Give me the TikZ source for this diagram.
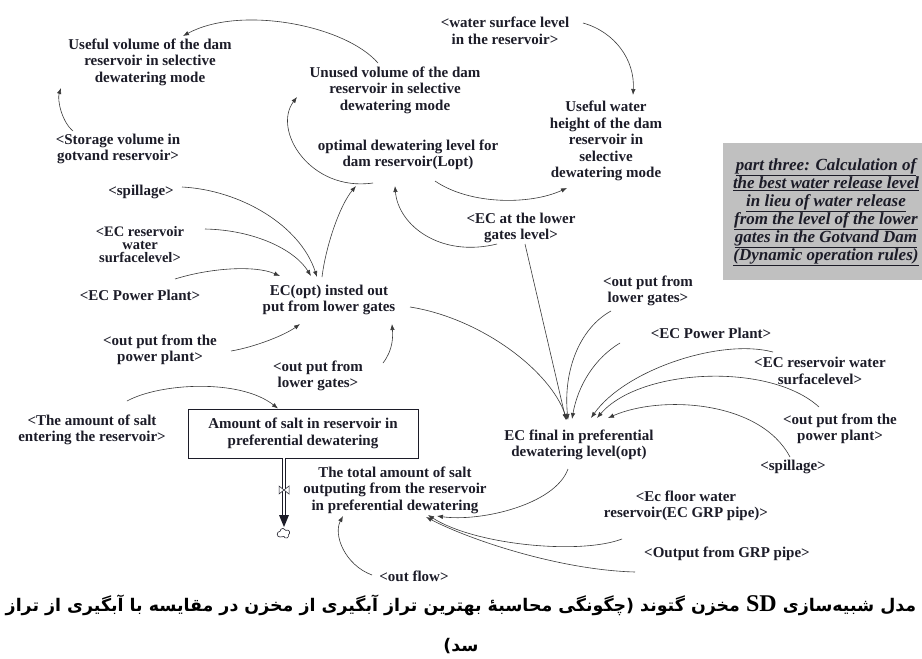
\documentclass[tikz,border=0pt]{standalone}
\usepackage{fontspec}
\setmainfont{Liberation Serif}
\newfontfamily\capfont[Script=Arabic]{DejaVu Sans}
\TeXXeTstate=1
\usetikzlibrary{arrows.meta}

\definecolor{ink}{HTML}{1C1C28}
\definecolor{wire}{HTML}{3A3A3A}
\definecolor{panel}{HTML}{C0C0C0}

\newcommand\uln[1]{\underline{#1}}
\newcommand\capsd{\fontsize{24}{24}\selectfont\rmfamily\bfseries SD}

\begin{document}
\begin{tikzpicture}[x=1pt,y=-1pt,
  var/.style={text=ink, align=center, inner sep=0pt,
    font=\fontsize{15}{16.5}\selectfont\bfseries},
  tightvar/.style={var, font=\fontsize{14.5}{13}\selectfont\bfseries},
  link/.style={draw=wire, line width=0.6pt, -{Latex[length=6pt,width=4.5pt]}},
  stockbox/.style={var, draw=ink, line width=0.9pt, minimum width=230pt, minimum height=49pt},
  pipe/.style={draw=ink, line width=0.8pt, double=white, double distance=2.2pt}]

\useasboundingbox[fill=white] (0,0) rectangle (922,659);

% ---- note panel ----
\fill[panel] (723,143) rectangle (940,280);
\node[text=ink, align=center, inner sep=0pt,
  font=\fontsize{17}{18}\selectfont\bfseries\itshape] (notetext) at (826,212)
  {\uln{part three: Calculation of}\\\uln{the best water release level}\\\uln{in lieu of water release}\\
   \uln{from the level of the lower}\\\uln{gates in the Gotvand Dam}\\\uln{(Dynamic operation rules)}};

% ---- variables ----
\node[var] (uvol)  at (150,62)  {Useful volume of the dam\\reservoir in selective\\dewatering mode};
\node[var] (stor)  at (118,149) {<Storage volume in\\gotvand reservoir>};
\node[var] (unus)  at (395,90)  {Unused volume of the dam\\reservoir in selective\\dewatering mode};
\node[var] (wsl)   at (505,31)  {<water surface level\\in the reservoir>};
\node[var] (uwh)   at (606,141) {Useful water\\height of the dam\\reservoir in\\selective\\dewatering mode};
\node[var] (opt)   at (408,155) {optimal dewatering level for\\dam reservoir(Lopt)};
\node[var] (spl1)  at (141,192) {<spillage>};
\node[tightvar] (ecr1) at (140,245) {<EC reservoir\\water\\surfacelevel>};
\node[var] (ecp1)  at (140,295) {<EC Power Plant>};
\node[var] (ecopt) at (329,300) {EC(opt) insted out\\put from lower gates};
\node[var] (opp1)  at (160,350) {<out put from the\\power plant>};
\node[var] (olg1)  at (318,376) {<out put from\\lower gates>};
\node[var] (ecl)   at (521,228) {<EC at the lower\\gates level>};
\node[var] (olg2)  at (648,291) {<out put from\\lower gates>};
\node[var] (ecp2)  at (711,333) {<EC Power Plant>};
\node[var] (ecr2)  at (820,371) {<EC reservoir water\\surfacelevel>};
\node[var] (opp2)  at (840,429) {<out put from the\\power plant>};
\node[var] (spl2)  at (793,467) {<spillage>};
\node[var] (ecf)   at (579,445) {EC final in preferential\\dewatering level(opt)};
\node[var] (saltin) at (92,430) {<The amount of salt\\entering the reservoir>};
\node[stockbox] (stock) at (303,433.5) {Amount of salt in reservoir in\\preferential dewatering};
\node[var] (total) at (395,490) {The total amount of salt\\outputing from the reservoir\\in preferential dewatering};
\node[var] (ecfl)  at (686,506) {<Ec floor water\\reservoir(EC GRP pipe)>};
\node[var] (ogrp)  at (727,554) {<Output from GRP pipe>};
\node[var] (oflow) at (414,576) {<out flow>};

% ---- outflow pipe, valve and sink cloud ----
\coordinate (sink) at (284,534);
\draw[ink, line width=0.6pt, fill=white]
  ([shift={(-4,3)}]sink) arc[start angle=-90, end angle=-270, radius=2.8pt]
  arc[start angle=180, end angle=20, radius=3pt]
  arc[start angle=120, end angle=-60, radius=2.6pt]
  arc[start angle=20, end angle=-160, radius=2.4pt] -- cycle;
\draw[pipe] ([shift={(-19,0)}]stock.south) -- ([shift={(0,-18)}]sink);
\fill[ink] ([shift={(-5,-19)}]sink) -- ([shift={(5,-19)}]sink) -- ([shift={(0,-7)}]sink) -- cycle;
\draw[ink, fill=white, line width=0.5pt] ([shift={(-5,-48)}]sink) -- ([shift={(-5,-40)}]sink)
  -- ([shift={(5,-48)}]sink) -- ([shift={(5,-40)}]sink) -- cycle;

% ---- causal links ----
\draw[link] ([shift={(-17,-27)}]unus.center) .. controls +(-33,-38) and +(57,-31) .. ([shift={(33,-26)}]uvol.center);
\draw[link] ([shift={(-45,-18)}]stor.center) .. controls +(-11,-9) and +(-4,12) .. ([shift={(-89,26)}]uvol.center);
\draw[link] ([shift={(-35,28)}]opt.center) .. controls +(-63,9) and +(-25,33) .. ([shift={(-98,7)}]unus.center);
\draw[link] ([shift={(27,26)}]opt.center) .. controls +(35,24) and +(-37,17) .. ([shift={(-39,47)}]uwh.center);
\draw[link] ([shift={(78,-8)}]wsl.center) .. controls +(32,9) and +(2,-35) .. ([shift={(27,-46)}]uwh.center);
\draw[link] ([shift={(-7,-23)}]ecopt.center) .. controls +(4,-32) and +(-16,19) .. ([shift={(-52,31)}]opt.center);
\draw[link] ([shift={(41,-5)}]spl1.center) .. controls +(58,3) and +(-17,-52) .. ([shift={(-12,-23)}]ecopt.center);
\draw[link] ([shift={(65,-16)}]ecr1.center) .. controls +(50,1) and +(-16,-26) .. ([shift={(-18,-24)}]ecopt.center);
\draw[link] ([shift={(35,-16)}]ecp1.center) .. controls +(35,-11) and +(-25,-11) .. ([shift={(-49,-24)}]ecopt.center);
\draw[link] ([shift={(71,1)}]opp1.center) .. controls +(24,-4) and +(-15,11) .. ([shift={(-29,24)}]ecopt.center);
\draw[link] ([shift={(65,-13)}]olg1.center) .. controls +(10,-13) and +(1,13) .. ([shift={(63,24)}]ecopt.center);
\draw[link] ([shift={(-24,16)}]ecl.center) .. controls +(-57,14) and +(3,39) .. ([shift={(-13,31)}]opt.center);
\draw[link] ([shift={(81,7)}]ecopt.center) .. controls +(70,11) and +(-17,-50) .. ([shift={(-12,-25)}]ecf.center);
\draw[link] ([shift={(4,16)}]ecl.center) -- ([shift={(-13,-25)}]ecf.center);
\draw[link] ([shift={(-37,20)}]olg2.center) .. controls +(-31,17) and +(-5,-50) .. ([shift={(-11,-25)}]ecf.center);
\draw[link] ([shift={(-91,10)}]ecp2.center) .. controls +(-25,15) and +(6,-34) .. ([shift={(-7,-26)}]ecf.center);
\draw[link] ([shift={(-47,-19)}]ecr2.center) .. controls +(-53,-14) and +(34,-48) .. ([shift={(12,-27)}]ecf.center);
\draw[link] ([shift={(-21,-22)}]opp2.center) .. controls +(-49,-45) and +(43,-50) .. ([shift={(18,-27)}]ecf.center);
\draw[link] ([shift={(-3,-10)}]spl2.center) .. controls +(-30,-57) and +(52,-23) .. ([shift={(29,-27)}]ecf.center);
\draw[link] ([shift={(-11,24)}]ecf.center) .. controls +(-13,36) and +(43,6) .. ([shift={(42,26)}]total.center);
\draw[link] ([shift={(-64,33)}]ecfl.center) .. controls +(-42,16) and +(47,30) .. ([shift={(33,25)}]total.center);
\draw[link] ([shift={(-92,18)}]ogrp.center) .. controls +(-75,-2) and +(44,23) .. ([shift={(31,27)}]total.center);
\draw[link] ([shift={(-42,-1)}]oflow.center) .. controls +(-27,-10) and +(-10,19) .. ([shift={(-52,26)}]total.center);
\draw[link] ([shift={(35,-29)}]saltin.center) .. controls +(33,-18) and +(-38,-30) .. ([shift={(-25,-25)}]stock.center);

% ---- caption ----
\node[text=black, inner sep=0pt, font=\fontsize{17.4}{20}\selectfont] (cap1) at (461,605)
  {\capfont\bfseries\beginR مدل شبیه‌سازی \beginL{\capsd}\endL\ مخزن گتوند (چگونگی محاسبهٔ بهترین تراز آبگیری از مخزن در مقایسه با آبگیری از تراز\endR};
\node[text=black, inner sep=0pt, font=\fontsize{17.4}{20}\selectfont] (cap2) at (461,646)
  {\capfont\bfseries\beginR سد)\endR};

\end{tikzpicture}
\end{document}
